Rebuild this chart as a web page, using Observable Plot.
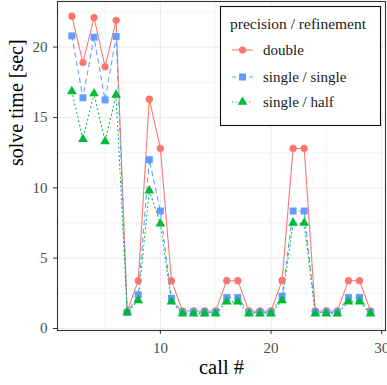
<!DOCTYPE html>
<html>
<head>
<meta charset="utf-8">
<script src="https://cdn.jsdelivr.net/npm/d3@7"></script>
<script src="https://cdn.jsdelivr.net/npm/@observablehq/plot@0.6"></script>
<style>
  body { margin: 0; background: #fff; }
  #wrap { position: relative; width: 387px; height: 385px; font-family: "Liberation Serif", "Times New Roman", "DejaVu Serif", serif; }
  #wrap svg, #wrap text { font-family: "Liberation Serif", "Times New Roman", "DejaVu Serif", serif !important; }
  #legend { position: absolute; left: 0; top: 0; }
</style>
</head>
<body>
<div id="wrap"></div>
<script>
const calls = [2,3,4,5,6,7,8,9,10,11,12,13,14,15,16,17,18,19,20,21,22,23,24,25,26,27,28,29];
const doubleVals = [22.2,18.9,22.1,18.6,21.9,1.2,3.4,16.3,12.8,3.4,1.25,1.25,1.25,1.25,3.4,3.4,1.25,1.25,1.25,3.4,12.8,12.8,1.25,1.25,1.25,3.4,3.4,1.25];
const singleVals = [20.8,16.4,20.7,16.25,20.75,1.15,2.4,12.0,8.35,2.15,1.15,1.15,1.15,1.15,2.2,2.2,1.15,1.15,1.15,2.3,8.35,8.35,1.15,1.15,1.15,2.2,2.2,1.15];
const halfVals = [16.85,13.45,16.7,13.3,16.6,1.15,2.0,9.8,7.45,1.9,1.05,1.05,1.05,1.05,1.9,1.9,1.05,1.05,1.05,2.0,7.5,7.5,1.05,1.05,1.05,1.9,1.9,1.05];
const seriesNames = ["double", "single / single", "single / half"];
const seriesColors = ["#F8766D", "#619CFF", "#00BA38"];
const legendTitle = "precision / refinement";
const xTitle = "call #";
const yTitle = "solve time [sec]";
const xMajor = [10, 20, 30], xMinor = [5, 15, 25];
const yMajor = [0, 5, 10, 15, 20], yMinor = [2.5, 7.5, 12.5, 17.5, 22.5];

const rows = (vals) => calls.map((c, i) => ({call: c, t: vals[i]}));
const dD = rows(doubleVals), dS = rows(singleVals), dH = rows(halfVals);
const font = '"Liberation Serif", "Times New Roman", "DejaVu Serif", serif';

const chart = Plot.plot({
  width: 387, height: 385,
  marginLeft: 57, marginRight: 2, marginTop: 1, marginBottom: 55,
  style: {fontFamily: font, background: "#fff"},
  x: {domain: [0.7, 30.35]},
  y: {domain: [-0.14, 23.24]},
  marks: [
    Plot.gridX(xMinor, {stroke: "#ebebeb", strokeOpacity: 1, strokeWidth: 0.55}),
    Plot.gridY(yMinor, {stroke: "#ebebeb", strokeOpacity: 1, strokeWidth: 0.55}),
    Plot.gridX(xMajor, {stroke: "#ebebeb", strokeOpacity: 1, strokeWidth: 1.1}),
    Plot.gridY(yMajor, {stroke: "#ebebeb", strokeOpacity: 1, strokeWidth: 1.1}),
    Plot.lineY(dD, {x: "call", y: "t", stroke: seriesColors[0], strokeWidth: 1.07}),
    Plot.lineY(dS, {x: "call", y: "t", stroke: seriesColors[1], strokeWidth: 1.07, strokeDasharray: "4.3,4.3"}),
    Plot.lineY(dH, {x: "call", y: "t", stroke: seriesColors[2], strokeWidth: 1.07, strokeDasharray: "1.1,3.2"}),
    Plot.dot(dD, {x: "call", y: "t", fill: seriesColors[0], r: 3.6, symbol: "circle"}),
    Plot.dot(dS, {x: "call", y: "t", fill: seriesColors[1], r: 3.95, symbol: "square"}),
    Plot.dot(dH, {x: "call", y: "t", fill: seriesColors[2], r: 3.6, symbol: "triangle"}),
    Plot.frame({stroke: "#333", strokeWidth: 1.1}),
    Plot.axisX(xMajor, {tickSize: 4, tickPadding: 8, fontSize: 15, stroke: "#333", fill: "#4d4d4d", label: null}),
    Plot.axisY(yMajor, {tickSize: 4, tickPadding: 6, fontSize: 15, stroke: "#333", fill: "#4d4d4d", label: null}),
    Plot.text([xTitle], {text: d => d, frameAnchor: "bottom", dy: 37, lineAnchor: "middle", fontSize: 20.5, fill: "#000"}),
    Plot.text([yTitle], {text: d => d, frameAnchor: "left", dx: -41, rotate: -90, lineAnchor: "middle", fontSize: 20, fill: "#000"})
  ]
});
const wrap = document.getElementById("wrap");
wrap.appendChild(chart);

// legend overlay
const lg = d3.select(wrap).append("svg").attr("id", "legend")
  .attr("width", 387).attr("height", 385)
  .attr("font-family", font);
lg.append("rect").attr("x", 220.5).attr("y", 6.5).attr("width", 160).attr("height", 119)
  .attr("fill", "#fff").attr("stroke", "#111").attr("stroke-width", 1.1);
lg.append("text").attr("x", 230).attr("y", 24).attr("dy", "0.35em")
  .attr("font-size", 15.5).attr("fill", "#1a1a1a").text(legendTitle);
const ys = [50, 77, 102];
const dash = [null, "4.3,4.3", "1.1,3.2"];
const sym = [d3.symbolCircle, d3.symbolSquare, d3.symbolTriangle];
const rr = [3.6, 3.95, 3.6];
seriesNames.forEach((name, i) => {
  const g = lg.append("g");
  g.append("line").attr("x1", 232).attr("x2", 253).attr("y1", ys[i]).attr("y2", ys[i])
    .attr("stroke", seriesColors[i]).attr("stroke-width", 1.07)
    .attr("stroke-dasharray", dash[i]);
  g.append("path").attr("transform", `translate(242.5,${ys[i]})`)
    .attr("d", d3.symbol(sym[i], Math.PI * rr[i] * rr[i])())
    .attr("fill", seriesColors[i]);
  g.append("text").attr("x", 263).attr("y", ys[i]).attr("dy", "0.35em")
    .attr("font-size", 15).attr("fill", "#1a1a1a").text(name);
});
</script>
</body>
</html>
